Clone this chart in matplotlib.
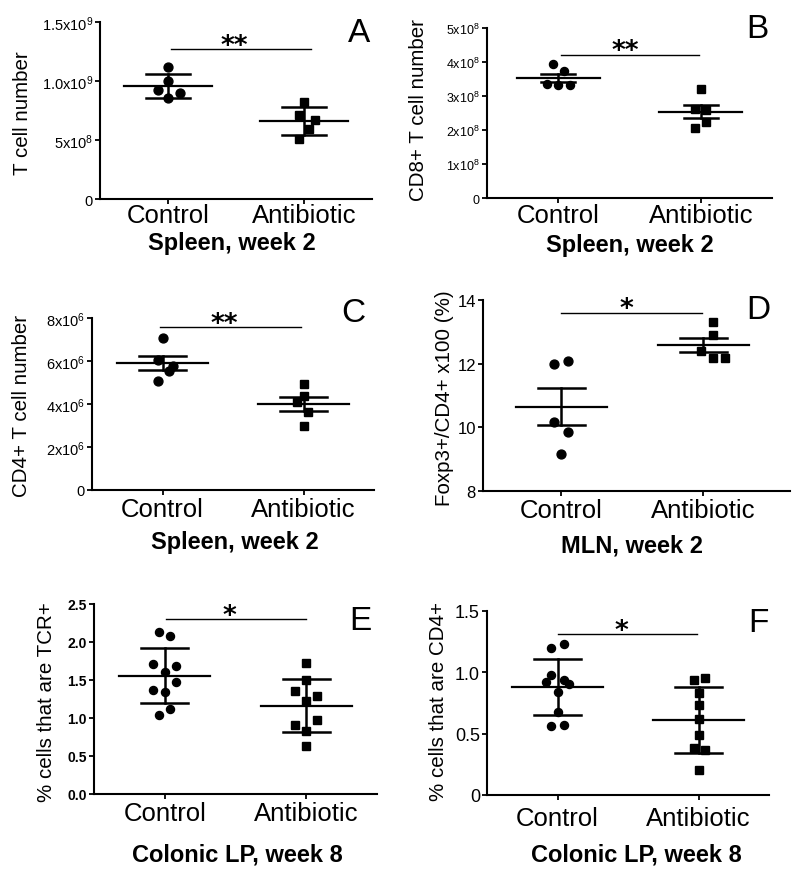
import matplotlib
matplotlib.use('Agg')
import matplotlib.pyplot as plt
import numpy as np

plt.rcParams['font.family'] = ['Liberation Sans', 'DejaVu Sans']
plt.rcParams['mathtext.fontset'] = 'custom'
plt.rcParams['mathtext.rm'] = 'Liberation Sans'
plt.rcParams['mathtext.it'] = 'Liberation Sans:italic'
plt.rcParams['mathtext.bf'] = 'Liberation Sans:bold'

categories = ['Control', 'Antibiotic']

# ---- Panel A: Spleen, week 2, T cell number (mean +/- SD)
a_control = [1.118e9, 0.996e9, 0.920e9, 0.900e9, 0.855e9]
a_antibiotic = [0.823e9, 0.713e9, 0.671e9, 0.594e9, 0.509e9]
a_ticks = [0, 5e8, 1e9, 1.5e9]
a_ticklabels = ['0', '5x10$^{8}$', '1.0x10$^{9}$', '1.5x10$^{9}$']

# ---- Panel B: CD8+ T cell number (mean +/- SEM)
b_control = [3.93e8, 3.73e8, 3.36e8, 3.31e8, 3.31e8]
b_antibiotic = [3.21e8, 2.62e8, 2.59e8, 2.25e8, 2.05e8]
b_ticks = [0, 1e8, 2e8, 3e8, 4e8, 5e8]
b_ticklabels = ['0', '1x10$^{8}$', '2x10$^{8}$', '3x10$^{8}$', '4x10$^{8}$', '5x10$^{8}$']

# ---- Panel C: CD4+ T cell number (mean +/- SEM)
c_control = [7.07e6, 6.06e6, 5.78e6, 5.55e6, 5.09e6]
c_antibiotic = [4.93e6, 4.36e6, 4.08e6, 3.61e6, 2.99e6]
c_ticks = [0, 2e6, 4e6, 6e6, 8e6]
c_ticklabels = ['0', '2x10$^{6}$', '4x10$^{6}$', '6x10$^{6}$', '8x10$^{6}$']

# ---- Panel D: MLN, Foxp3+/CD4+ (%) (mean +/- SEM)
d_control = [11.98, 12.08, 10.18, 9.86, 9.17]
d_antibiotic = [13.31, 12.90, 12.40, 12.17, 12.17]
d_ticks = [8, 10, 12, 14]
d_ticklabels = ['8', '10', '12', '14']

# ---- Panel E: Colonic LP, % TCR+ (mean +/- SD)
e_control = [2.13, 2.08, 1.71, 1.68, 1.605, 1.47, 1.37, 1.34, 1.12, 1.04]
e_antibiotic = [1.73, 1.50, 1.35, 1.29, 1.23, 0.91, 0.98, 0.83, 0.63]
e_ticks = [0.0, 0.5, 1.0, 1.5, 2.0, 2.5]
e_ticklabels = ['0.0', '0.5', '1.0', '1.5', '2.0', '2.5']

# ---- Panel F: Colonic LP, % CD4+ (mean +/- SD)
f_control = [1.195, 1.227, 0.982, 0.925, 0.941, 0.908, 0.843, 0.679, 0.565, 0.573]
f_antibiotic = [0.94, 0.955, 0.83, 0.73, 0.62, 0.49, 0.38, 0.37, 0.20]
f_ticks = [0, 0.5, 1.0, 1.5]
f_ticklabels = ['0', '0.5', '1.0', '1.5']

# significance bars
sig_levels = [1.268e9, 4.22e8, 7.57e6, 13.6, 2.30, 1.31]
sig_stars = ['**', '**', '**', '*', '*', '*']

# horizontal scatter of the dots (layout only)
a_ctrl_dx = [0, 0, -0.074, 0.086, 0]
a_ab_dx = [0, -0.037, 0.08, 0.037, -0.037]
b_ctrl_dx = [-0.04, 0.04, -0.08, 0.0, 0.08]
b_ab_dx = [0, -0.043, 0.037, 0.037, -0.043]
c_ctrl_dx = [0, -0.035, 0.078, 0.043, -0.035]
c_ab_dx = [0, 0, -0.047, 0.035, 0]
d_ctrl_dx = [-0.047, 0.045, -0.047, 0.045, 0]
d_ab_dx = [0.066, 0.066, -0.019, 0.066, 0.152]
e_ctrl_dx = [-0.043, 0.035, -0.085, 0.078, 0, 0.078, -0.085, 0, 0.035, -0.043]
e_ab_dx = [0, 0, -0.083, 0.078, 0, -0.083, 0.078, 0, 0]
f_ctrl_dx = [-0.043, 0.043, -0.043, -0.085, 0.043, 0.085, 0, 0, -0.043, 0.043]
f_ab_dx = [-0.035, 0.045, 0, 0, 0, 0, -0.03, 0.045, 0]

W, H = 800, 878
fig = plt.figure(figsize=(W / 100, H / 100), dpi=100)


def px_rect(l, r, t, b):
    return [l / W, 1 - b / H, (r - l) / W, (b - t) / H]


def panel(rect, ctrl, ctrl_dx, ab, ab_dx, err, ylim, ticks, ticklabels, ylabel,
          group, sig_y, stars, sig_x, star_x, letter, letter_xy, ylabel_xy,
          group_xy, tick_fs, tick_bold, xpad, xlim=(-0.5, 1.5),
          mean_hw=0.32, cap_hw=0.165, ms=6.4, sq=5.8, ylabel_fs=14.8):
    ax = fig.add_axes(rect)
    for i, (vals, dx, mk, size) in enumerate([(ctrl, ctrl_dx, 'o', ms), (ab, ab_dx, 's', sq)]):
        v = np.asarray(vals, dtype=float)
        m = v.mean()
        sd = v.std(ddof=1)
        e = sd if err == 'sd' else sd / np.sqrt(len(v))
        ax.plot([i - mean_hw, i + mean_hw], [m, m], color='black', lw=1.6, zorder=2)
        ax.plot([i - cap_hw, i + cap_hw], [m + e, m + e], color='black', lw=1.8, zorder=2)
        ax.plot([i - cap_hw, i + cap_hw], [m - e, m - e], color='black', lw=1.8, zorder=2)
        ax.plot([i, i], [m - e, m + e], color='black', lw=1.8, zorder=2)
        ax.plot(i + np.asarray(dx), v, linestyle='none', marker=mk, ms=size,
                color='black', zorder=3)
    ax.set_xlim(*xlim)
    ax.set_ylim(*ylim)
    ax.set_xticks([0, 1])
    ax.set_xticklabels(categories, fontsize=18.5)
    ax.set_yticks(ticks)
    ax.set_yticklabels(ticklabels, fontsize=tick_fs,
                       fontweight='bold' if tick_bold else 'normal')
    for s in ['top', 'right']:
        ax.spines[s].set_visible(False)
    for s in ['left', 'bottom']:
        ax.spines[s].set_linewidth(1.5)
    ax.tick_params(axis='both', direction='out', length=3.6, width=1.3)
    ax.tick_params(axis='y', pad=1.5)
    ax.tick_params(axis='x', pad=xpad)
    ax.set_facecolor('none')
    # significance line + stars
    ax.plot(sig_x, [sig_y, sig_y], color='black', lw=1.0, clip_on=False)
    ax.annotate(stars, xy=(star_x, sig_y), xytext=(0, -2.5), textcoords='offset points',
                ha='center', va='baseline', fontsize=19, fontweight='bold',
                family='DejaVu Sans', annotation_clip=False)
    fig.text(letter_xy[0] / W, 1 - letter_xy[1] / H, letter, fontsize=24,
             ha='center', va='center')
    fig.text(ylabel_xy[0] / W, 1 - ylabel_xy[1] / H, ylabel, rotation=90,
             fontsize=ylabel_fs, ha='center', va='center')
    fig.text(group_xy[0] / W, 1 - group_xy[1] / H, group, fontsize=17,
             fontweight='bold', ha='center', va='baseline')
    return ax


panel(px_rect(100, 372, 23, 200), a_control, a_ctrl_dx, a_antibiotic, a_ab_dx, 'sd',
      (0, 1.5e9), a_ticks, a_ticklabels, 'T cell number', 'Spleen, week 2',
      sig_levels[0], sig_stars[0], [0.02, 1.05], 0.49, 'A', (359, 33), (23, 113),
      (232, 250), 10.5, False, -1.0)

panel(px_rect(487, 772, 29, 199), b_control, b_ctrl_dx, b_antibiotic, b_ab_dx, 'sem',
      (0, 5e8), b_ticks, b_ticklabels, 'CD8+ T cell number', 'Spleen, week 2',
      sig_levels[1], sig_stars[1], [0.02, 0.99], 0.47, 'B', (757, 29), (418, 110),
      (630, 252), 9, False, -0.3, mean_hw=0.29, cap_hw=0.12, ms=5.8, sq=5.4)

panel(px_rect(92, 374, 319, 491), c_control, c_ctrl_dx, c_antibiotic, c_ab_dx, 'sem',
      (0, 8e6), c_ticks, c_ticklabels, 'CD4+ T cell number', 'Spleen, week 2',
      sig_levels[2], sig_stars[2], [-0.02, 0.98], 0.44, 'C', (353, 313), (22, 406),
      (235, 549), 10.5, False, 1.7)

panel(px_rect(483, 790, 301, 492), d_control, d_ctrl_dx, d_antibiotic, d_ab_dx, 'sem',
      (8, 14), d_ticks, d_ticklabels, 'Foxp3+/CD4+ x100 (%)', 'MLN, week 2',
      sig_levels[3], sig_stars[3], [0.0, 0.99], 0.46, 'D', (758, 311), (445, 398),
      (632, 552), 12, False, 1.7, xlim=(-0.55, 1.61))

panel(px_rect(94, 377, 605, 795), e_control, e_ctrl_dx, e_antibiotic, e_ab_dx, 'sd',
      (0, 2.5), e_ticks, e_ticklabels, '% cells that are TCR+', 'Colonic LP, week 8',
      sig_levels[4], sig_stars[4], [0.01, 1.0], 0.46, 'E', (360, 621), (47, 702),
      (237, 862), 10, True, 1.7, ms=5.8, sq=5.8)

panel(px_rect(487, 769, 612, 796), f_control, f_ctrl_dx, f_antibiotic, f_ab_dx, 'sd',
      (0, 1.5), f_ticks, f_ticklabels, '% cells that are CD4+', 'Colonic LP, week 8',
      sig_levels[5], sig_stars[5], [0.0, 0.99], 0.45, 'F', (758, 623), (439, 702),
      (636, 862), 13, False, 4.5, ms=5.8, sq=5.6)

fig.savefig('out.png', dpi=100, facecolor='white')
